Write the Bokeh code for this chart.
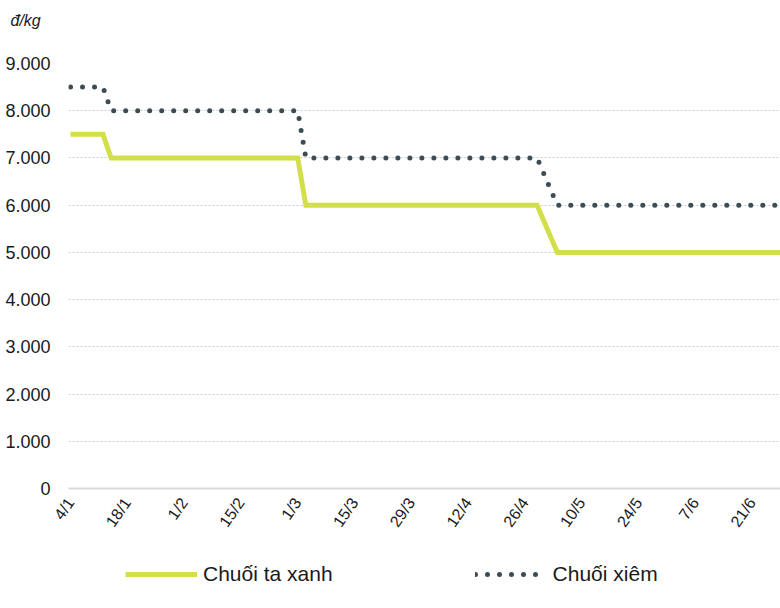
import pandas as pd
from bokeh.plotting import figure
from bokeh.layouts import column
from bokeh.models import (Range1d, FixedTicker, DatetimeTickFormatter, Legend,
                          LegendItem, Label, ColumnDataSource)
from bokeh.embed import file_html
from bokeh.resources import INLINE

# ---- data ----
dates = ["2021-01-04", "2021-01-12", "2021-01-14", "2021-03-01", "2021-03-03",
         "2021-04-29", "2021-05-04", "2021-06-28"]
chuoi_ta_xanh = [7500, 7500, 7000, 7000, 6000, 6000, 5000, 5000]
chuoi_xiem = [8500, 8500, 8000, 8000, 7000, 7000, 6000, 6000]

tick_dates = ["2021-01-04", "2021-01-18", "2021-02-01", "2021-02-15", "2021-03-01",
              "2021-03-15", "2021-03-29", "2021-04-12", "2021-04-26", "2021-05-10",
              "2021-05-24", "2021-06-07", "2021-06-21"]
y_ticks = [0, 1000, 2000, 3000, 4000, 5000, 6000, 7000, 8000, 9000]
y_tick_labels = ["0", "1.000", "2.000", "3.000", "4.000", "5.000", "6.000",
                 "7.000", "8.000", "9.000"]
unit_label = "đ/kg"
series_names = ["Chuối ta xanh", "Chuối xiêm"]

FONT = "Liberation Sans"
TXT = "#1a1a1a"
GREEN = "#d3df4a"
SLATE = "#3b4c55"
W = 780


def bare(height, **kw):
    fig = figure(width=W, height=height, output_backend="svg",
                 toolbar_location=None, x_axis_location=None,
                 y_axis_location=None, min_border=0, min_border_left=0,
                 min_border_right=0, min_border_top=0, min_border_bottom=0,
                 frame_align=False, **kw)
    fig.grid.visible = False
    fig.outline_line_color = None
    return fig


x = pd.to_datetime(dates)
src = ColumnDataSource(dict(x=x, a=chuoi_ta_xanh, b=chuoi_xiem))

# ---- header with unit text ----
head = bare(45, x_range=Range1d(0, W), y_range=Range1d(0, 45))
head.add_layout(Label(x=10, y=25, text=unit_label, text_font=FONT,
                      text_font_style="italic", text_font_size="16px",
                      text_color=TXT, text_baseline="middle"))

# ---- main chart ----
p = figure(width=W, height=500, x_axis_type="datetime",
           output_backend="svg", toolbar_location=None,
           x_range=Range1d(x[0] - pd.Timedelta(hours=12), x[-1]),
           y_range=Range1d(0, 9000), frame_align=False,
           min_border_left=68, min_border_right=0, min_border_top=18,
           min_border_bottom=57)
p.outline_line_color = None

p.yaxis.ticker = FixedTicker(ticks=y_ticks)
p.yaxis.major_label_overrides = {t: l for t, l in zip(y_ticks, y_tick_labels)}
p.yaxis.axis_line_color = None
p.yaxis.major_tick_line_color = None
p.yaxis.minor_tick_line_color = None
p.yaxis.major_label_standoff = 12
p.yaxis.major_label_text_font = FONT
p.yaxis.major_label_text_font_size = "18px"
p.yaxis.major_label_text_color = TXT

tick_ms = [pd.Timestamp(d).value / 1e6 for d in tick_dates]
p.xaxis.ticker = FixedTicker(ticks=tick_ms)
fmt = "%-d/%-m"
p.xaxis.formatter = DatetimeTickFormatter(days=fmt, months=fmt, years=fmt,
                                          hours=fmt, minutes=fmt, seconds=fmt,
                                          milliseconds=fmt, microseconds=fmt,
                                          minsec=fmt, hourmin=fmt)
p.xaxis.major_label_orientation = 0.96
p.xaxis.axis_line_color = "#d9d9d9"
p.xaxis.axis_line_width = 2
p.xaxis.major_tick_line_color = None
p.xaxis.minor_tick_line_color = None
p.xaxis.major_label_standoff = 5
p.xaxis.major_label_text_font = FONT
p.xaxis.major_label_text_font_size = "16px"
p.xaxis.major_label_text_color = TXT

p.xgrid.grid_line_color = None
p.ygrid.ticker = FixedTicker(ticks=y_ticks)
p.ygrid.grid_line_color = "#cccccc"
p.ygrid.grid_line_dash = "2 2"
p.ygrid.grid_line_width = 1

p.line("x", "a", source=src, line_color=GREEN, line_width=5, line_join="miter")
p.line("x", "b", source=src, line_color=SLATE, line_width=5,
       line_dash="0 12", line_cap="round")

# ---- legend strip (renderers share the data but are hidden; only keys show) ----
leg = bare(63, x_range=Range1d(0, 1), y_range=Range1d(0, 1))
l1 = leg.line("x", "a", source=src, line_color=GREEN, line_width=5,
              visible=False)
l2 = leg.line("x", "b", source=src, line_color=SLATE, line_width=5,
              line_dash="0 12", line_cap="round", visible=False)
legend = Legend(items=[LegendItem(label=series_names[0], renderers=[l1]),
                       LegendItem(label=series_names[1], renderers=[l2])],
                orientation="horizontal", location=(125, 22),
                border_line_color=None, background_fill_alpha=0,
                label_text_font=FONT, label_text_font_size="21px",
                label_text_color=TXT, glyph_width=72, glyph_height=20,
                spacing=142, label_standoff=6, padding=4, margin=0,
                click_policy="none")
leg.add_layout(legend, "center")

open("out.html", "w").write(file_html(column(head, p, leg, spacing=0), INLINE))
